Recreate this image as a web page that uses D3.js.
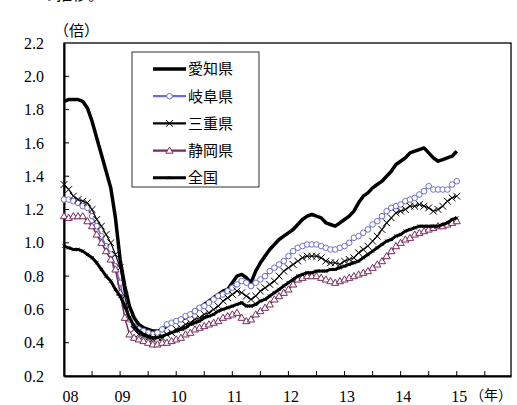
<!DOCTYPE html>
<html><head><meta charset="utf-8">
<script src="https://cdn.jsdelivr.net/npm/d3@7"></script>
<style>body{margin:0;background:#fff}svg{display:block}</style>
</head><body>
<svg id="c" width="517" height="405"></svg>
<script>
// ---- data (monthly, Jan 2008 .. Jan 2015) ----
const yearLabels = ["08","09","10","11","12","13","14","15"];
const yTickValues = [0.2,0.4,0.6,0.8,1.0,1.2,1.4,1.6,1.8,2.0,2.2];
const seriesNames = ["愛知県","岐阜県","三重県","静岡県","全国"];
const aichi = [1.85,1.86,1.86,1.86,1.85,1.81,1.73,1.63,1.53,1.43,1.33,1.15,
 0.90,0.74,0.62,0.55,0.51,0.49,0.48,0.47,0.47,0.48,0.50,0.52,
 0.53,0.54,0.55,0.57,0.59,0.61,0.63,0.65,0.67,0.69,0.71,0.72,
 0.76,0.80,0.81,0.79,0.76,0.83,0.88,0.92,0.96,0.99,1.02,1.04,
 1.06,1.08,1.11,1.14,1.16,1.17,1.16,1.15,1.12,1.11,1.10,1.12,
 1.14,1.16,1.19,1.24,1.28,1.30,1.33,1.35,1.37,1.40,1.43,1.47,
 1.49,1.51,1.54,1.55,1.56,1.57,1.54,1.51,1.49,1.50,1.51,1.52,1.55];
const gifu = [1.26,1.26,1.25,1.24,1.22,1.21,1.16,1.10,1.04,0.98,0.93,0.86,
 0.76,0.62,0.54,0.50,0.48,0.47,0.46,0.45,0.46,0.48,0.51,0.52,
 0.53,0.54,0.56,0.57,0.59,0.61,0.62,0.64,0.66,0.68,0.69,0.71,
 0.73,0.75,0.77,0.76,0.74,0.76,0.78,0.80,0.83,0.85,0.87,0.89,
 0.92,0.95,0.97,0.98,0.99,0.99,0.99,0.98,0.97,0.96,0.96,0.97,
 0.98,1.00,1.03,1.04,1.06,1.08,1.11,1.13,1.16,1.19,1.21,1.22,
 1.23,1.25,1.26,1.27,1.29,1.31,1.34,1.32,1.32,1.32,1.32,1.35,1.37];
const mie = [1.35,1.32,1.28,1.26,1.25,1.24,1.20,1.14,1.10,1.05,1.00,0.93,
 0.85,0.68,0.55,0.48,0.45,0.44,0.43,0.42,0.43,0.43,0.45,0.46,
 0.48,0.49,0.51,0.52,0.54,0.55,0.57,0.58,0.60,0.62,0.65,0.67,
 0.69,0.71,0.70,0.68,0.66,0.68,0.71,0.73,0.75,0.77,0.80,0.83,
 0.85,0.87,0.89,0.91,0.92,0.92,0.92,0.91,0.89,0.88,0.88,0.87,
 0.89,0.90,0.91,0.94,0.96,0.98,1.01,1.04,1.08,1.12,1.15,1.18,
 1.19,1.20,1.22,1.22,1.23,1.22,1.21,1.19,1.20,1.22,1.25,1.27,1.28];
const shizuoka = [1.16,1.15,1.16,1.16,1.16,1.13,1.10,1.05,1.00,0.95,0.90,0.84,
 0.70,0.55,0.45,0.43,0.42,0.41,0.40,0.39,0.39,0.40,0.40,0.41,
 0.42,0.43,0.45,0.46,0.48,0.49,0.50,0.51,0.52,0.53,0.55,0.56,
 0.57,0.58,0.55,0.53,0.54,0.57,0.59,0.61,0.63,0.66,0.68,0.70,
 0.72,0.75,0.78,0.79,0.80,0.80,0.80,0.79,0.78,0.77,0.76,0.77,
 0.78,0.79,0.80,0.81,0.82,0.83,0.85,0.87,0.89,0.92,0.95,0.98,
 1.00,1.02,1.03,1.05,1.06,1.07,1.08,1.09,1.10,1.10,1.11,1.12,1.13];
const national = [0.98,0.97,0.96,0.96,0.95,0.93,0.91,0.88,0.84,0.80,0.77,0.72,
 0.68,0.62,0.55,0.50,0.47,0.45,0.44,0.43,0.43,0.44,0.45,0.46,
 0.47,0.48,0.49,0.51,0.52,0.53,0.55,0.56,0.57,0.59,0.60,0.61,
 0.62,0.63,0.64,0.62,0.62,0.63,0.65,0.66,0.68,0.70,0.72,0.74,
 0.76,0.78,0.80,0.81,0.82,0.82,0.83,0.83,0.83,0.84,0.84,0.85,
 0.86,0.87,0.88,0.89,0.91,0.93,0.95,0.97,0.99,1.01,1.02,1.04,
 1.05,1.07,1.08,1.09,1.10,1.10,1.10,1.10,1.10,1.11,1.12,1.14,1.15];

// ---- drawing ----
const svg = d3.select("#c");
const L = 64, R = 511, T = 43, B = 376;
const x = d3.scaleLinear().domain([0, 95.6]).range([L, R]);
const y = d3.scaleLinear().domain([0.2, 2.2]).range([B, T]);
const serif = "'Liberation Serif','Times New Roman','DejaVu Serif',serif";
const cjk = "'Noto Sans CJK JP','Noto Sans CJK SC',sans-serif";

// partially visible note at the very top (cut off in the original)
svg.append("text").attr("x", 40).attr("y", 0).style("font-family", cjk)
  .style("font-size", "16px").attr("fill", "#000").text("の推移。");

// unit labels
svg.append("text").attr("x", 54).attr("y", 36).style("font-family", cjk)
  .style("font-size", "15px").attr("fill", "#000").text("（倍）");
svg.append("text").attr("x", 470).attr("y", 400).style("font-family", cjk)
  .style("font-size", "14px").attr("fill", "#000").text("（年）");

// frame
svg.append("rect").attr("x", L).attr("y", T).attr("width", R - L).attr("height", B - T)
  .attr("fill", "none").attr("stroke", "#000").attr("stroke-width", 1.3);

// y axis
const yAxis = d3.axisLeft(y).tickValues(yTickValues).tickSize(0).tickPadding(20)
  .tickFormat(d3.format(".1f"));
const gy = svg.append("g").attr("transform", `translate(${L},0)`).call(yAxis);
gy.attr("font-family", null).attr("font-size", null);
gy.select(".domain").attr("stroke", "#000").attr("stroke-width", 2);
gy.selectAll("text").style("font-family", serif).style("font-size", "16px").attr("fill", "#000");
svg.append("g").selectAll("line").data(yTickValues.slice(1, -1)).join("line")
  .attr("x1", L).attr("x2", L + 5).attr("y1", d => y(d)).attr("y2", d => y(d))
  .attr("stroke", "#000").attr("stroke-width", 1);

// x axis
const monthTicks = d3.range(6, 96, 6);
const xAxis = d3.axisBottom(x).tickValues(d3.range(0, 85, 12)).tickSize(0).tickPadding(15)
  .tickFormat((d, i) => yearLabels[i]);
const gx = svg.append("g").attr("transform", `translate(0,${B})`).call(xAxis);
gx.attr("font-family", null).attr("font-size", null);
gx.select(".domain").attr("stroke", "#000").attr("stroke-width", 2);
gx.selectAll("text").style("font-family", serif).style("font-size", "16px").attr("fill", "#000")
  .attr("dx", (d, i) => i === 0 ? 6 : 2);
svg.append("g").selectAll("line").data(monthTicks).join("line")
  .attr("x1", d => x(d)).attr("x2", d => x(d)).attr("y1", B).attr("y2", B - 5)
  .attr("stroke", "#000").attr("stroke-width", 1);

// series
const line = d3.line().x((d, i) => x(i)).y(d => y(d));
const markers = {
  circle: g => g.append("circle").attr("r", 2.8).attr("fill", "#fff"),
  x: g => g.append("path").attr("d", "M-3.4,-3.4L3.4,3.4M-3.4,3.4L3.4,-3.4").attr("fill", "none"),
  tri: g => g.append("path").attr("d", "M0,-3.6L3.6,2.6L-3.6,2.6Z").attr("fill", "#fff"),
  dot: g => g.append("path").attr("d", "M-1.6,-1.6L1.6,1.6M-1.6,1.6L1.6,-1.6").attr("fill", "none"),
  none: null
};
const series = [
  { name: seriesNames[0], values: aichi, color: "#000", w: 3.5, marker: "none" },
  { name: seriesNames[1], values: gifu, color: "#6c70c8", w: 1.5, marker: "circle" },
  { name: seriesNames[2], values: mie, color: "#000", w: 1.2, marker: "x" },
  { name: seriesNames[3], values: shizuoka, color: "#7a2a5c", w: 1.5, marker: "tri" },
  { name: seriesNames[4], values: national, color: "#000", w: 3, marker: "dot" }
];
const plot = svg.append("g");
series.forEach(s => {
  plot.append("path").datum(s.values).attr("d", line).attr("fill", "none")
    .attr("stroke", s.color).attr("stroke-width", s.w).attr("stroke-linejoin", "round");
  if (markers[s.marker]) {
    s.values.forEach((v, i) => {
      const g = plot.append("g").attr("transform", `translate(${x(i)},${y(v)})`)
        .attr("stroke", s.color).attr("stroke-width", 1);
      markers[s.marker](g);
    });
  }
});

// legend
const lg = svg.append("g");
lg.append("rect").attr("x", 132).attr("y", 52).attr("width", 127).attr("height", 135)
  .attr("fill", "#fff").attr("stroke", "#333").attr("stroke-width", 1);
series.forEach((s, i) => {
  const cy = 69 + i * 27.2;
  lg.append("line").attr("x1", 153).attr("x2", 186).attr("y1", cy).attr("y2", cy)
    .attr("stroke", s.color).attr("stroke-width", Math.max(s.w, 2.2));
  if (markers[s.marker]) {
    const g = lg.append("g").attr("transform", `translate(169.5,${cy})`)
      .attr("stroke", s.color).attr("stroke-width", 1);
    markers[s.marker](g);
  }
  lg.append("text").attr("x", 188).attr("y", cy).attr("dy", "0.36em")
    .style("font-family", cjk).style("font-size", "15px").attr("fill", "#000").text(s.name);
});
</script>
</body></html>
